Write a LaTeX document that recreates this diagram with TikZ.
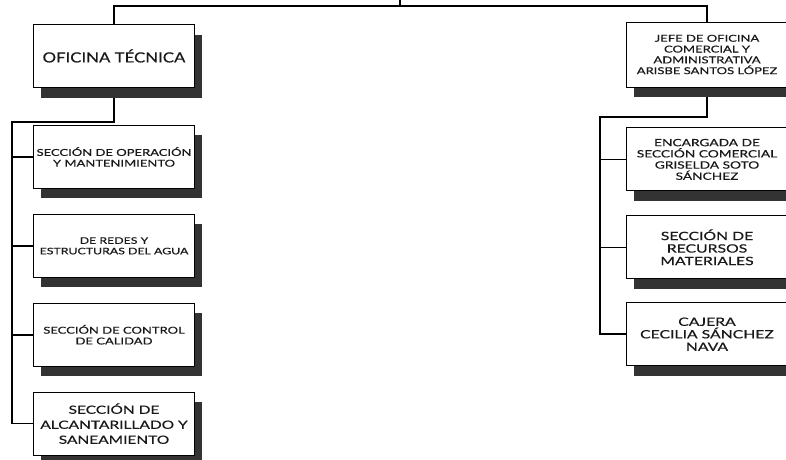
\documentclass[tikz,border=0pt]{standalone}
\usepackage{fontspec}
\setmainfont{Lato}
\newfontfamily\boxfont{Lato}[FakeStretch=1.37, FakeBold=0.4]
\newfontfamily\titlefont{Lato}[FakeStretch=1.2, FakeBold=0.4]
\usetikzlibrary{positioning,shadows,backgrounds}
\begin{document}
\begin{tikzpicture}[x=1pt, y=-1pt, node distance=25pt,
    box/.style={rectangle, draw, line width=0.9pt, fill=white, text=black!90, minimum width=161pt, minimum height=63pt, align=center, inner sep=2pt,
        drop shadow={shadow xshift=7pt, shadow yshift=-10pt, fill=black!80, opacity=1}},
    small/.style={font=\boxfont\fontsize{9.5}{10.8}\selectfont},
    mid/.style={font=\boxfont\fontsize{11.5}{12.5}\selectfont},
    big/.style={font=\titlefont\fontsize{14}{16}\selectfont},
    link/.style={line width=1.6pt}]
    \useasboundingbox (0,0) rectangle (786,459);

    % oficina tecnica
    \node[box, big] (tec) at (114,56) {OFICINA TÉCNICA};
    \node[box, small, below=37pt of tec] (oper) {SECCIÓN DE OPERACIÓN\\Y MANTENIMIENTO};
    \node[box, small, font=\boxfont\fontsize{9}{10.5}\selectfont, below=of oper] (redes) {DE REDES Y\\ESTRUCTURAS DEL AGUA};
    \node[box, small, below=of redes] (cal) {SECCIÓN DE CONTROL\\DE CALIDAD};
    \node[box, mid, font=\boxfont\fontsize{11.3}{15}\selectfont, below=of cal] (alc) {SECCIÓN DE\\ALCANTARILLADO Y\\SANEAMIENTO};

    % oficina comercial
    \node[box, small, minimum height=65pt] (jefe) at (707,54.5) {JEFE DE OFICINA\\COMERCIAL Y\\ADMINISTRATIVA\\ARISBE SANTOS LÓPEZ};
    \node[box, small, font=\boxfont\fontsize{10}{11.2}\selectfont, below=40pt of jefe] (enc) {ENCARGADA DE\\SECCIÓN COMERCIAL\\GRISELDA SOTO\\SÁNCHEZ};
    \node[box, mid, below=24pt of enc] (rec) {SECCIÓN DE\\RECURSOS\\MATERIALES};
    \node[box, mid, below=23pt of rec] (caj) {CAJERA\\CECILIA SÁNCHEZ\\NAVA};

    \begin{scope}[on background layer]
        \coordinate (root) at (400,0);
        \coordinate (bus) at (400,6);
        \draw[link] (root) -- (bus);
        \draw[link] (tec.north) |- (bus) -| (jefe.north);

        \coordinate (ltrunk) at (12,122);
        \draw[link] (tec.south) |- (ltrunk) |- (alc.west);
        \foreach \n in {oper,redes,cal}
            \draw[link] (ltrunk |- \n.west) -- (\n.west);

        \coordinate (rtrunk) at (600,117);
        \draw[link] (jefe.south) |- (rtrunk) |- (caj.west);
        \foreach \n in {enc,rec}
            \draw[link] (rtrunk |- \n.west) -- (\n.west);
    \end{scope}
\end{tikzpicture}
\end{document}
